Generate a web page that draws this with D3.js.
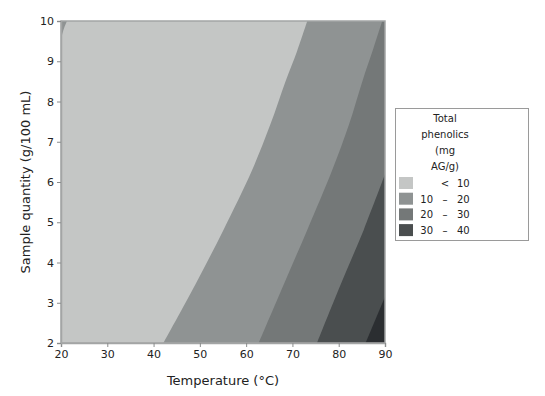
<!DOCTYPE html>
<html>
<head>
<meta charset="utf-8">
<script src="https://cdn.jsdelivr.net/npm/d3@7/dist/d3.min.js"></script>
<style>
  body { margin: 0; background: #fff; }
  svg text { font-family: "DejaVu Sans", sans-serif; fill: #222; }
</style>
</head>
<body>
<div id="chart"></div>
<script>
// contour lines, [temperature, sample quantity]
var contour10 = [[73.2, 10], [71.0, 9.25], [68.5, 8.5], [65.2, 7.42], [61.3, 6.3],
                 [55.1, 4.81], [49.0, 3.45], [42.1, 2]];
var contour10Corner = [[20, 9.55], [20.6, 9.8], [21.3, 10]];
var contour20 = [[89.4, 10], [87.5, 9.32], [85.1, 8.5], [82.2, 7.42], [78.6, 6.3],
                 [73.2, 4.81], [68.1, 3.45], [62.7, 2]];
var contour30 = [[90, 6.19], [85.4, 4.81], [80.4, 3.45], [75.3, 2]];
var contour40 = [[90, 3.15], [85.8, 2]];

var xTicks = [20, 30, 40, 50, 60, 70, 80, 90];
var yTicks = [2, 3, 4, 5, 6, 7, 8, 9, 10];
var legendTitle = ['Total', 'phenolics', '(mg', 'AG/g)'];
var legendRows = [['', '<', '10'], ['10', '\u2013', '20'], ['20', '\u2013', '30'], ['30', '\u2013', '40']];
var bandColors = ['#c4c6c5', '#8f9393', '#747878', '#4a4e4f', '#2b2e31'];

var width = 545, height = 396;
var margin = {left: 61, top: 21, right: 160, bottom: 53};

var svg = d3.select('#chart').append('svg')
    .attr('width', width)
    .attr('height', height);

var x = d3.scaleLinear().domain([20, 90]).range([margin.left, width - margin.right]);
var y = d3.scaleLinear().domain([2, 10]).range([height - margin.bottom, margin.top]);

var line = d3.line()
    .x(function (d) { return x(d[0]); })
    .y(function (d) { return y(d[1]); })
    .curve(d3.curveCatmullRom);

// polygon from a contour line closed through plot corners
function region(points, corners) {
    var p = line(points);
    corners.forEach(function (c) {
        p += 'L' + x(c[0]) + ',' + y(c[1]);
    });
    return p + 'Z';
}

var plot = svg.append('g');

plot.append('rect')
    .attr('x', x(20)).attr('y', y(10))
    .attr('width', x(90) - x(20)).attr('height', y(2) - y(10))
    .attr('fill', bandColors[0]);

plot.append('path').attr('d', region(contour10, [[90, 2], [90, 10]])).attr('fill', bandColors[1]);
plot.append('path').attr('d', region(contour10Corner, [[20, 10]])).attr('fill', bandColors[1]);
plot.append('path').attr('d', region(contour20, [[90, 2], [90, 10]])).attr('fill', bandColors[2]);
plot.append('path').attr('d', region(contour30, [[90, 2]])).attr('fill', bandColors[3]);
plot.append('path').attr('d', region(contour40, [[90, 2]])).attr('fill', bandColors[4]);

// frame
plot.append('rect')
    .attr('x', x(20)).attr('y', y(10))
    .attr('width', x(90) - x(20)).attr('height', y(2) - y(10))
    .attr('fill', 'none')
    .attr('stroke', '#a3a5a5')
    .attr('stroke-width', 1.5);

var xAxis = svg.append('g')
    .attr('transform', 'translate(0,' + y(2) + ')')
    .call(d3.axisBottom(x).tickValues(xTicks).tickSize(4).tickPadding(3));
var yAxis = svg.append('g')
    .attr('transform', 'translate(' + x(20) + ',0)')
    .call(d3.axisLeft(y).tickValues(yTicks).tickSize(4).tickPadding(3));

[xAxis, yAxis].forEach(function (a) {
    a.select('.domain').attr('stroke', '#a3a5a5').attr('stroke-width', 1.5);
    a.selectAll('.tick line').attr('stroke', '#8a8c8c');
    a.selectAll('.tick text').attr('font-size', 11).attr('fill', '#222')
        .style('font-family', '"DejaVu Sans", sans-serif');
});

svg.append('text')
    .attr('x', (x(20) + x(90)) / 2)
    .attr('y', 385)
    .attr('text-anchor', 'middle')
    .attr('font-size', 13)
    .text('Temperature (\u00b0C)');

svg.append('text')
    .attr('transform', 'translate(30,' + (y(6)) + ') rotate(-90)')
    .attr('text-anchor', 'middle')
    .attr('font-size', 13)
    .text('Sample quantity (g/100 mL)');

// legend
var legend = svg.append('g');
legend.append('rect')
    .attr('x', 395.5).attr('y', 108.5)
    .attr('width', 133).attr('height', 132)
    .attr('fill', '#fff')
    .attr('stroke', '#9a9a9a');

legendTitle.forEach(function (t, i) {
    legend.append('text')
        .attr('x', 445)
        .attr('y', 122 + i * 16)
        .attr('text-anchor', 'middle')
        .attr('font-size', 10)
        .text(t);
});

legendRows.forEach(function (r, i) {
    var cy = 183 + i * 15.7;
    legend.append('rect')
        .attr('x', 399).attr('y', cy - 6)
        .attr('width', 14).attr('height', 12)
        .attr('fill', bandColors[i]);
    legend.append('text').attr('x', 433).attr('y', cy + 4)
        .attr('text-anchor', 'end').attr('font-size', 10).text(r[0]);
    legend.append('text').attr('x', 445).attr('y', cy + 4)
        .attr('text-anchor', 'middle').attr('font-size', 10).text(r[1]);
    legend.append('text').attr('x', 457).attr('y', cy + 4)
        .attr('text-anchor', 'start').attr('font-size', 10).text(r[2]);
});
</script>
</body>
</html>
